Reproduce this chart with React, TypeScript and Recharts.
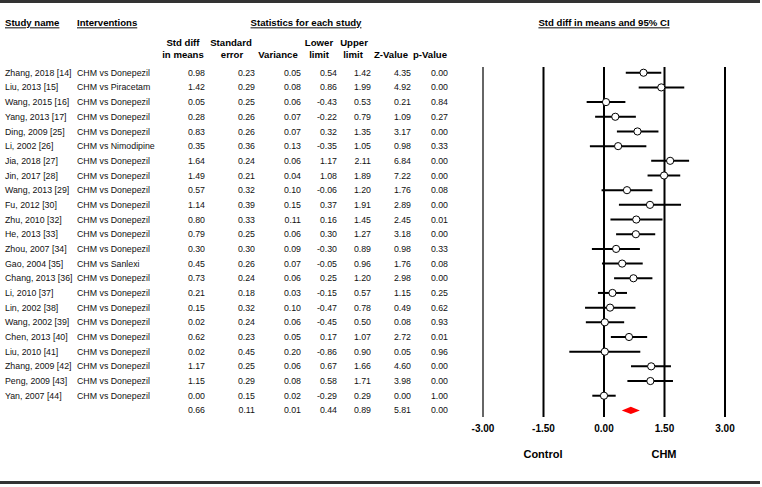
import {
  ComposedChart,
  Scatter,
  ErrorBar,
  XAxis,
  YAxis,
  ReferenceLine,
  ReferenceArea,
} from "recharts"

const studies = [
  "Zhang, 2018 [14]", "Liu, 2013 [15]", "Wang, 2015 [16]", "Yang, 2013 [17]",
  "Ding, 2009 [25]", "Li, 2002 [26]", "Jia, 2018 [27]", "Jin, 2017 [28]",
  "Wang, 2013 [29]", "Fu, 2012 [30]", "Zhu, 2010 [32]", "He, 2013 [33]",
  "Zhou, 2007 [34]", "Gao, 2004 [35]", "Chang, 2013 [36]", "Li, 2010 [37]",
  "Lin, 2002 [38]", "Wang, 2002 [39]", "Chen, 2013 [40]", "Liu, 2010 [41]",
  "Zhang, 2009 [42]", "Peng, 2009 [43]", "Yan, 2007 [44]",
]
const interventions = [
  "CHM vs Donepezil", "CHM vs Piracetam", "CHM vs Donepezil", "CHM vs Donepezil",
  "CHM vs Donepezil", "CHM vs Nimodipine", "CHM vs Donepezil", "CHM vs Donepezil",
  "CHM vs Donepezil", "CHM vs Donepezil", "CHM vs Donepezil", "CHM vs Donepezil",
  "CHM vs Donepezil", "CHM vs Sanlexi", "CHM vs Donepezil", "CHM vs Donepezil",
  "CHM vs Donepezil", "CHM vs Donepezil", "CHM vs Donepezil", "CHM vs Donepezil",
  "CHM vs Donepezil", "CHM vs Donepezil", "CHM vs Donepezil",
]
const stdDiff = [0.98, 1.42, 0.05, 0.28, 0.83, 0.35, 1.64, 1.49, 0.57, 1.14, 0.80, 0.79, 0.30, 0.45, 0.73, 0.21, 0.15, 0.02, 0.62, 0.02, 1.17, 1.15, 0.00]
const stdErr = [0.23, 0.29, 0.25, 0.26, 0.26, 0.36, 0.24, 0.21, 0.32, 0.39, 0.33, 0.25, 0.30, 0.26, 0.24, 0.18, 0.32, 0.24, 0.23, 0.45, 0.25, 0.29, 0.15]
const variance = [0.05, 0.08, 0.06, 0.07, 0.07, 0.13, 0.06, 0.04, 0.10, 0.15, 0.11, 0.06, 0.09, 0.07, 0.06, 0.03, 0.10, 0.06, 0.05, 0.20, 0.06, 0.08, 0.02]
const lower = [0.54, 0.86, -0.43, -0.22, 0.32, -0.35, 1.17, 1.08, -0.06, 0.37, 0.16, 0.30, -0.30, -0.05, 0.25, -0.15, -0.47, -0.45, 0.17, -0.86, 0.67, 0.58, -0.29]
const upper = [1.42, 1.99, 0.53, 0.79, 1.35, 1.05, 2.11, 1.89, 1.20, 1.91, 1.45, 1.27, 0.89, 0.96, 1.20, 0.57, 0.78, 0.50, 1.07, 0.90, 1.66, 1.71, 0.29]
const zValue = [4.35, 4.92, 0.21, 1.09, 3.17, 0.98, 6.84, 7.22, 1.76, 2.89, 2.45, 3.18, 0.98, 1.76, 2.98, 1.15, 0.49, 0.08, 2.72, 0.05, 4.60, 3.98, 0.00]
const pValue = [0.00, 0.00, 0.84, 0.27, 0.00, 0.33, 0.00, 0.00, 0.08, 0.00, 0.01, 0.00, 0.33, 0.08, 0.00, 0.25, 0.62, 0.93, 0.01, 0.96, 0.00, 0.00, 1.00]

// pooled row: std diff, SE, variance, lower, upper, Z, p
const summary = [0.66, 0.11, 0.01, 0.44, 0.89, 5.81, 0.00]

const xTicks = [-3, -1.5, 0, 1.5, 3]

const FONT = "'Liberation Sans', Arial, sans-serif"
const colRight = [205, 255, 301, 337, 371, 411, 448]

const tableRows = [
  ...studies.map((s, i) => ({
    study: s,
    intervention: interventions[i],
    values: [stdDiff[i], stdErr[i], variance[i], lower[i], upper[i], zValue[i], pValue[i]],
  })),
  { study: "", intervention: "", values: summary },
]

const points = studies.map((_, i) => ({
  row: i,
  mean: stdDiff[i],
  err: [stdDiff[i] - lower[i], upper[i] - stdDiff[i]],
}))
const summaryRow = studies.length

function RowTick(props: any) {
  const { y, payload } = props
  const r = tableRows[payload.value]
  if (!r) return null
  return (
    <g fontSize={8.8} fill="#111" fontFamily={FONT}>
      <text x={5} y={y} dy="0.35em">{r.study}</text>
      <text x={77} y={y} dy="0.35em">{r.intervention}</text>
      {r.values.map((v, k) => (
        <text key={k} x={colRight[k]} y={y} dy="0.35em" textAnchor="end">
          {v.toFixed(2)}
        </text>
      ))}
    </g>
  )
}

function Dot(props: any) {
  const { cx, cy } = props
  return <circle cx={cx} cy={cy} r={3.6} fill="#fff" stroke="#000" strokeWidth={1} />
}

function Diamond(props: any) {
  const { x, y, width, height } = props
  const mx = x + width / 2
  const my = y + height / 2
  return (
    <polygon
      points={`${x},${my} ${mx},${y} ${x + width},${my} ${mx},${y + height}`}
      fill="#ff0000"
    />
  )
}

const headStyle = { fontFamily: FONT, fontSize: 9.6, fontWeight: 700, fill: "#000" }

export default function App() {
  return (
    <div style={{ position: "absolute", left: 0, top: 0, width: 762, height: 487, background: "#fff" }}>
      <ComposedChart
        width={762}
        height={487}
        data={points}
        margin={{ top: 67, right: 37, bottom: 50, left: 0 }}
      >
        <XAxis
          type="number"
          dataKey="mean"
          domain={[-3, 3]}
          ticks={xTicks}
          allowDataOverflow
          axisLine={false}
          tickLine={false}
          height={20}
          interval={0}
          tickFormatter={(v: number) => v.toFixed(2)}
          tick={{ fontFamily: FONT, fontSize: 10, fontWeight: 700, fill: "#000" }}
        />
        <YAxis
          type="number"
          dataKey="row"
          domain={[-0.39, 23.45]}
          reversed
          allowDataOverflow
          ticks={tableRows.map((_, i) => i)}
          interval={0}
          width={483}
          axisLine={false}
          tickLine={false}
          tick={<RowTick />}
        />
        {xTicks.map((t) => (
          <ReferenceLine
            key={t}
            x={t}
            stroke={t === -3 ? "#666" : "#000"}
            strokeWidth={2}
            ifOverflow="visible"
          />
        ))}
        <Scatter data={points} dataKey="mean" shape={<Dot />} isAnimationActive={false}>
          <ErrorBar dataKey="err" direction="x" width={0} stroke="#000" strokeWidth={2} isAnimationActive={false} />
        </Scatter>
        <ReferenceArea
          x1={summary[3]}
          x2={summary[4]}
          y1={summaryRow - 0.24}
          y2={summaryRow + 0.24}
          shape={<Diamond />}
          ifOverflow="visible"
        />
      </ComposedChart>
      <svg
        width={762}
        height={487}
        style={{ position: "absolute", left: 0, top: 0, pointerEvents: "none" }}
      >
        <line x1={0} y1={1.5} x2={760} y2={1.5} stroke="#333" strokeWidth={3} />
        <line x1={0} y1={482.5} x2={760} y2={482.5} stroke="#333" strokeWidth={3} />
        <g style={headStyle as any}>
          <text x={5} y={23} dy="0.35em" textDecoration="underline">Study name</text>
          <text x={77} y={23} dy="0.35em" textDecoration="underline">Interventions</text>
          <text x={306} y={23} dy="0.35em" textAnchor="middle" textDecoration="underline">Statistics for each study</text>
          <text x={604} y={23} dy="0.35em" textAnchor="middle" textDecoration="underline">Std diff in means and 95% CI</text>
          <text x={183} y={43} dy="0.35em" textAnchor="middle">Std diff</text>
          <text x={183} y={55} dy="0.35em" textAnchor="middle">in means</text>
          <text x={231} y={43} dy="0.35em" textAnchor="middle">Standard</text>
          <text x={232} y={55} dy="0.35em" textAnchor="middle">error</text>
          <text x={278} y={55} dy="0.35em" textAnchor="middle">Variance</text>
          <text x={319} y={43} dy="0.35em" textAnchor="middle">Lower</text>
          <text x={319} y={55} dy="0.35em" textAnchor="middle">limit</text>
          <text x={354} y={43} dy="0.35em" textAnchor="middle">Upper</text>
          <text x={353} y={55} dy="0.35em" textAnchor="middle">limit</text>
          <text x={391} y={55} dy="0.35em" textAnchor="middle">Z-Value</text>
          <text x={430} y={55} dy="0.35em" textAnchor="middle">p-Value</text>
          <text x={543} y={454} dy="0.35em" textAnchor="middle" fontSize={11}>Control</text>
          <text x={664} y={454} dy="0.35em" textAnchor="middle" fontSize={11}>CHM</text>
        </g>
      </svg>
    </div>
  )
}
